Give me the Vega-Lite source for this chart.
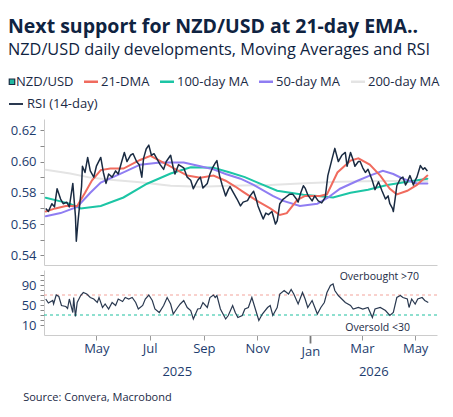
{
  "$schema": "https://vega.github.io/schema/vega-lite/v6.json",
  "padding": {"left": 8, "right": 8, "top": 17, "bottom": 6},
  "background": "white",
  "title": {
    "text": "Next support for NZD/USD at 21-day EMA..",
    "subtitle": "NZD/USD daily developments, Moving Averages and RSI",
    "anchor": "start",
    "frame": "bounds",
    "font": "Open Sans",
    "fontSize": 19.5,
    "fontWeight": "bold",
    "color": "#0f2341",
    "subtitleFont": "Open Sans",
    "subtitleFontSize": 16.3,
    "subtitleColor": "#0f2341",
    "subtitlePadding": 4,
    "offset": 16
  },
  "datasets": {
    "px": [
      {"date": "2025-03-04", "v": 0.570}, {"date": "2025-03-07", "v": 0.568}, {"date": "2025-03-11", "v": 0.573},
      {"date": "2025-03-14", "v": 0.571}, {"date": "2025-03-17", "v": 0.5826}, {"date": "2025-03-21", "v": 0.576},
      {"date": "2025-03-24", "v": 0.573}, {"date": "2025-03-28", "v": 0.574}, {"date": "2025-03-31", "v": 0.571},
      {"date": "2025-04-04", "v": 0.586}, {"date": "2025-04-07", "v": 0.565}, {"date": "2025-04-08", "v": 0.549},
      {"date": "2025-04-10", "v": 0.562}, {"date": "2025-04-14", "v": 0.584}, {"date": "2025-04-15", "v": 0.597},
      {"date": "2025-04-18", "v": 0.593}, {"date": "2025-04-21", "v": 0.6026}, {"date": "2025-04-24", "v": 0.594},
      {"date": "2025-04-28", "v": 0.590}, {"date": "2025-05-01", "v": 0.597}, {"date": "2025-05-06", "v": 0.6026},
      {"date": "2025-05-09", "v": 0.593}, {"date": "2025-05-12", "v": 0.586}, {"date": "2025-05-15", "v": 0.592},
      {"date": "2025-05-19", "v": 0.590}, {"date": "2025-05-23", "v": 0.594}, {"date": "2025-05-26", "v": 0.592},
      {"date": "2025-05-30", "v": 0.600}, {"date": "2025-06-02", "v": 0.6058}, {"date": "2025-06-05", "v": 0.600},
      {"date": "2025-06-09", "v": 0.604}, {"date": "2025-06-12", "v": 0.605}, {"date": "2025-06-16", "v": 0.600},
      {"date": "2025-06-19", "v": 0.598}, {"date": "2025-06-22", "v": 0.590}, {"date": "2025-06-24", "v": 0.602},
      {"date": "2025-06-27", "v": 0.608}, {"date": "2025-06-30", "v": 0.6105}, {"date": "2025-07-03", "v": 0.604},
      {"date": "2025-07-06", "v": 0.605}, {"date": "2025-07-10", "v": 0.601}, {"date": "2025-07-13", "v": 0.598},
      {"date": "2025-07-17", "v": 0.595}, {"date": "2025-07-20", "v": 0.600}, {"date": "2025-07-25", "v": 0.604},
      {"date": "2025-07-28", "v": 0.596}, {"date": "2025-07-30", "v": 0.592}, {"date": "2025-08-03", "v": 0.598},
      {"date": "2025-08-09", "v": 0.596}, {"date": "2025-08-13", "v": 0.590}, {"date": "2025-08-17", "v": 0.588},
      {"date": "2025-08-20", "v": 0.5826}, {"date": "2025-08-25", "v": 0.588}, {"date": "2025-08-28", "v": 0.590},
      {"date": "2025-08-31", "v": 0.583}, {"date": "2025-09-05", "v": 0.586}, {"date": "2025-09-08", "v": 0.592},
      {"date": "2025-09-11", "v": 0.596}, {"date": "2025-09-14", "v": 0.599}, {"date": "2025-09-16", "v": 0.6006},
      {"date": "2025-09-19", "v": 0.591}, {"date": "2025-09-22", "v": 0.585}, {"date": "2025-09-26", "v": 0.578},
      {"date": "2025-09-29", "v": 0.582}, {"date": "2025-10-01", "v": 0.584}, {"date": "2025-10-05", "v": 0.580},
      {"date": "2025-10-09", "v": 0.576}, {"date": "2025-10-13", "v": 0.5716}, {"date": "2025-10-16", "v": 0.574},
      {"date": "2025-10-21", "v": 0.575}, {"date": "2025-10-24", "v": 0.578}, {"date": "2025-10-28", "v": 0.581},
      {"date": "2025-10-31", "v": 0.576}, {"date": "2025-11-02", "v": 0.5716}, {"date": "2025-11-06", "v": 0.566},
      {"date": "2025-11-08", "v": 0.5632}, {"date": "2025-11-11", "v": 0.567}, {"date": "2025-11-14", "v": 0.566},
      {"date": "2025-11-18", "v": 0.568}, {"date": "2025-11-22", "v": 0.560}, {"date": "2025-11-24", "v": 0.562},
      {"date": "2025-11-27", "v": 0.573}, {"date": "2025-12-01", "v": 0.576}, {"date": "2025-12-03", "v": 0.5768},
      {"date": "2025-12-08", "v": 0.579}, {"date": "2025-12-12", "v": 0.579}, {"date": "2025-12-16", "v": 0.576},
      {"date": "2025-12-18", "v": 0.574}, {"date": "2025-12-21", "v": 0.580}, {"date": "2025-12-24", "v": 0.5845},
      {"date": "2025-12-26", "v": 0.583}, {"date": "2025-12-29", "v": 0.5787}, {"date": "2026-01-03", "v": 0.5748},
      {"date": "2026-01-06", "v": 0.578}, {"date": "2026-01-10", "v": 0.5748}, {"date": "2026-01-14", "v": 0.5735},
      {"date": "2026-01-18", "v": 0.577}, {"date": "2026-01-21", "v": 0.591}, {"date": "2026-01-26", "v": 0.602},
      {"date": "2026-01-29", "v": 0.6084}, {"date": "2026-02-02", "v": 0.600}, {"date": "2026-02-06", "v": 0.604},
      {"date": "2026-02-10", "v": 0.6058}, {"date": "2026-02-12", "v": 0.597}, {"date": "2026-02-16", "v": 0.6058},
      {"date": "2026-02-19", "v": 0.601}, {"date": "2026-02-21", "v": 0.597}, {"date": "2026-02-25", "v": 0.600},
      {"date": "2026-02-27", "v": 0.600}, {"date": "2026-03-02", "v": 0.596}, {"date": "2026-03-05", "v": 0.593},
      {"date": "2026-03-08", "v": 0.595}, {"date": "2026-03-13", "v": 0.5877}, {"date": "2026-03-16", "v": 0.582},
      {"date": "2026-03-20", "v": 0.587}, {"date": "2026-03-24", "v": 0.5813}, {"date": "2026-03-28", "v": 0.576},
      {"date": "2026-03-31", "v": 0.578}, {"date": "2026-04-02", "v": 0.573}, {"date": "2026-04-05", "v": 0.570},
      {"date": "2026-04-06", "v": 0.568}, {"date": "2026-04-08", "v": 0.576}, {"date": "2026-04-10", "v": 0.5845},
      {"date": "2026-04-14", "v": 0.589}, {"date": "2026-04-17", "v": 0.590}, {"date": "2026-04-20", "v": 0.585},
      {"date": "2026-04-22", "v": 0.587}, {"date": "2026-04-25", "v": 0.591}, {"date": "2026-04-29", "v": 0.585},
      {"date": "2026-05-01", "v": 0.588}, {"date": "2026-05-03", "v": 0.590}, {"date": "2026-05-07", "v": 0.5974},
      {"date": "2026-05-10", "v": 0.595}, {"date": "2026-05-12", "v": 0.596}, {"date": "2026-05-15", "v": 0.594}
    ],
    "ma": [
      {"series": "200-day MA", "date": "2025-03-04", "v": 0.5948}, {"series": "200-day MA", "date": "2025-04-01", "v": 0.5923},
      {"series": "200-day MA", "date": "2025-04-24", "v": 0.5897}, {"series": "200-day MA", "date": "2025-05-17", "v": 0.5884},
      {"series": "200-day MA", "date": "2025-06-20", "v": 0.5867}, {"series": "200-day MA", "date": "2025-07-25", "v": 0.5845},
      {"series": "200-day MA", "date": "2025-08-28", "v": 0.5839}, {"series": "200-day MA", "date": "2025-10-01", "v": 0.5845},
      {"series": "200-day MA", "date": "2025-11-16", "v": 0.585}, {"series": "200-day MA", "date": "2025-12-20", "v": 0.586},
      {"series": "200-day MA", "date": "2026-02-04", "v": 0.587}, {"series": "200-day MA", "date": "2026-03-22", "v": 0.5875},
      {"series": "200-day MA", "date": "2026-05-15", "v": 0.5875},

      {"series": "100-day MA", "date": "2025-03-04", "v": 0.5768}, {"series": "100-day MA", "date": "2025-03-21", "v": 0.5745},
      {"series": "100-day MA", "date": "2025-04-01", "v": 0.5729}, {"series": "100-day MA", "date": "2025-04-13", "v": 0.570},
      {"series": "100-day MA", "date": "2025-05-06", "v": 0.5716}, {"series": "100-day MA", "date": "2025-06-01", "v": 0.577},
      {"series": "100-day MA", "date": "2025-06-28", "v": 0.5858}, {"series": "100-day MA", "date": "2025-07-25", "v": 0.5923},
      {"series": "100-day MA", "date": "2025-08-17", "v": 0.5963}, {"series": "100-day MA", "date": "2025-09-12", "v": 0.596},
      {"series": "100-day MA", "date": "2025-10-01", "v": 0.593}, {"series": "100-day MA", "date": "2025-10-18", "v": 0.590},
      {"series": "100-day MA", "date": "2025-11-01", "v": 0.5867}, {"series": "100-day MA", "date": "2025-11-24", "v": 0.5813},
      {"series": "100-day MA", "date": "2025-12-09", "v": 0.580}, {"series": "100-day MA", "date": "2025-12-24", "v": 0.5787},
      {"series": "100-day MA", "date": "2026-01-09", "v": 0.578}, {"series": "100-day MA", "date": "2026-01-27", "v": 0.577},
      {"series": "100-day MA", "date": "2026-02-16", "v": 0.580}, {"series": "100-day MA", "date": "2026-03-08", "v": 0.582},
      {"series": "100-day MA", "date": "2026-03-30", "v": 0.585}, {"series": "100-day MA", "date": "2026-04-22", "v": 0.587},
      {"series": "100-day MA", "date": "2026-05-15", "v": 0.589},

      {"series": "50-day MA", "date": "2025-03-04", "v": 0.565}, {"series": "50-day MA", "date": "2025-03-21", "v": 0.567},
      {"series": "50-day MA", "date": "2025-04-09", "v": 0.571}, {"series": "50-day MA", "date": "2025-04-24", "v": 0.580},
      {"series": "50-day MA", "date": "2025-05-06", "v": 0.5865}, {"series": "50-day MA", "date": "2025-06-01", "v": 0.593},
      {"series": "50-day MA", "date": "2025-06-20", "v": 0.598}, {"series": "50-day MA", "date": "2025-07-13", "v": 0.5994},
      {"series": "50-day MA", "date": "2025-08-09", "v": 0.5994}, {"series": "50-day MA", "date": "2025-08-28", "v": 0.597},
      {"series": "50-day MA", "date": "2025-09-12", "v": 0.595}, {"series": "50-day MA", "date": "2025-09-26", "v": 0.592},
      {"series": "50-day MA", "date": "2025-10-13", "v": 0.589}, {"series": "50-day MA", "date": "2025-10-28", "v": 0.585},
      {"series": "50-day MA", "date": "2025-11-19", "v": 0.578}, {"series": "50-day MA", "date": "2025-12-01", "v": 0.5748},
      {"series": "50-day MA", "date": "2025-12-20", "v": 0.5716}, {"series": "50-day MA", "date": "2026-01-09", "v": 0.573},
      {"series": "50-day MA", "date": "2026-01-21", "v": 0.5768}, {"series": "50-day MA", "date": "2026-02-04", "v": 0.5826},
      {"series": "50-day MA", "date": "2026-02-24", "v": 0.5877}, {"series": "50-day MA", "date": "2026-03-10", "v": 0.591},
      {"series": "50-day MA", "date": "2026-03-25", "v": 0.594}, {"series": "50-day MA", "date": "2026-04-06", "v": 0.592},
      {"series": "50-day MA", "date": "2026-04-17", "v": 0.589}, {"series": "50-day MA", "date": "2026-05-03", "v": 0.586},
      {"series": "50-day MA", "date": "2026-05-15", "v": 0.586},

      {"series": "21-DMA", "date": "2025-03-04", "v": 0.568}, {"series": "21-DMA", "date": "2025-03-15", "v": 0.570},
      {"series": "21-DMA", "date": "2025-03-27", "v": 0.5715}, {"series": "21-DMA", "date": "2025-04-09", "v": 0.5716},
      {"series": "21-DMA", "date": "2025-04-18", "v": 0.580}, {"series": "21-DMA", "date": "2025-04-26", "v": 0.588},
      {"series": "21-DMA", "date": "2025-05-06", "v": 0.5945}, {"series": "21-DMA", "date": "2025-05-17", "v": 0.5955},
      {"series": "21-DMA", "date": "2025-06-01", "v": 0.5955}, {"series": "21-DMA", "date": "2025-06-20", "v": 0.601},
      {"series": "21-DMA", "date": "2025-07-02", "v": 0.6036}, {"series": "21-DMA", "date": "2025-07-21", "v": 0.598},
      {"series": "21-DMA", "date": "2025-08-13", "v": 0.591}, {"series": "21-DMA", "date": "2025-08-28", "v": 0.5897},
      {"series": "21-DMA", "date": "2025-09-12", "v": 0.591}, {"series": "21-DMA", "date": "2025-09-26", "v": 0.5877},
      {"series": "21-DMA", "date": "2025-10-07", "v": 0.584}, {"series": "21-DMA", "date": "2025-10-16", "v": 0.5806},
      {"series": "21-DMA", "date": "2025-11-01", "v": 0.5748}, {"series": "21-DMA", "date": "2025-11-16", "v": 0.570},
      {"series": "21-DMA", "date": "2025-11-27", "v": 0.5658}, {"series": "21-DMA", "date": "2025-12-05", "v": 0.567},
      {"series": "21-DMA", "date": "2025-12-17", "v": 0.5755}, {"series": "21-DMA", "date": "2025-12-26", "v": 0.578},
      {"series": "21-DMA", "date": "2026-01-12", "v": 0.578}, {"series": "21-DMA", "date": "2026-01-20", "v": 0.579},
      {"series": "21-DMA", "date": "2026-02-01", "v": 0.593}, {"series": "21-DMA", "date": "2026-02-16", "v": 0.6006},
      {"series": "21-DMA", "date": "2026-02-25", "v": 0.602}, {"series": "21-DMA", "date": "2026-03-10", "v": 0.598},
      {"series": "21-DMA", "date": "2026-03-22", "v": 0.591}, {"series": "21-DMA", "date": "2026-04-02", "v": 0.5826},
      {"series": "21-DMA", "date": "2026-04-10", "v": 0.579}, {"series": "21-DMA", "date": "2026-04-22", "v": 0.5813},
      {"series": "21-DMA", "date": "2026-05-03", "v": 0.585}, {"series": "21-DMA", "date": "2026-05-15", "v": 0.591}
    ],
    "rsi": [
      {"date": "2025-03-04", "v": 62}, {"date": "2025-03-07", "v": 54}, {"date": "2025-03-12", "v": 59}, {"date": "2025-03-13", "v": 52},
      {"date": "2025-03-16", "v": 70}, {"date": "2025-03-19", "v": 67}, {"date": "2025-03-22", "v": 49}, {"date": "2025-03-27", "v": 47},
      {"date": "2025-03-29", "v": 43}, {"date": "2025-03-31", "v": 62}, {"date": "2025-04-04", "v": 35}, {"date": "2025-04-05", "v": 65},
      {"date": "2025-04-07", "v": 27}, {"date": "2025-04-09", "v": 55}, {"date": "2025-04-13", "v": 69}, {"date": "2025-04-16", "v": 75},
      {"date": "2025-04-20", "v": 72}, {"date": "2025-04-24", "v": 65}, {"date": "2025-04-28", "v": 62}, {"date": "2025-05-02", "v": 55},
      {"date": "2025-05-04", "v": 65}, {"date": "2025-05-08", "v": 45}, {"date": "2025-05-11", "v": 52}, {"date": "2025-05-15", "v": 42},
      {"date": "2025-05-19", "v": 55}, {"date": "2025-05-23", "v": 49}, {"date": "2025-05-26", "v": 62}, {"date": "2025-05-31", "v": 57},
      {"date": "2025-06-03", "v": 65}, {"date": "2025-06-07", "v": 62}, {"date": "2025-06-11", "v": 65}, {"date": "2025-06-15", "v": 55},
      {"date": "2025-06-18", "v": 42}, {"date": "2025-06-23", "v": 49}, {"date": "2025-06-26", "v": 62}, {"date": "2025-06-30", "v": 70},
      {"date": "2025-07-04", "v": 59}, {"date": "2025-07-07", "v": 42}, {"date": "2025-07-12", "v": 35}, {"date": "2025-07-17", "v": 49},
      {"date": "2025-07-21", "v": 65}, {"date": "2025-07-25", "v": 52}, {"date": "2025-07-28", "v": 32}, {"date": "2025-08-02", "v": 45},
      {"date": "2025-08-05", "v": 52}, {"date": "2025-08-09", "v": 59}, {"date": "2025-08-13", "v": 45}, {"date": "2025-08-17", "v": 39},
      {"date": "2025-08-20", "v": 22}, {"date": "2025-08-25", "v": 42}, {"date": "2025-08-28", "v": 43}, {"date": "2025-08-31", "v": 55},
      {"date": "2025-09-05", "v": 45}, {"date": "2025-09-08", "v": 65}, {"date": "2025-09-12", "v": 70}, {"date": "2025-09-14", "v": 65},
      {"date": "2025-09-16", "v": 69}, {"date": "2025-09-20", "v": 42}, {"date": "2025-09-26", "v": 22}, {"date": "2025-09-29", "v": 29},
      {"date": "2025-10-04", "v": 49}, {"date": "2025-10-07", "v": 35}, {"date": "2025-10-10", "v": 25}, {"date": "2025-10-15", "v": 29},
      {"date": "2025-10-18", "v": 42}, {"date": "2025-10-22", "v": 45}, {"date": "2025-10-26", "v": 65}, {"date": "2025-10-30", "v": 42},
      {"date": "2025-11-03", "v": 19}, {"date": "2025-11-07", "v": 32}, {"date": "2025-11-13", "v": 45}, {"date": "2025-11-16", "v": 49},
      {"date": "2025-11-19", "v": 29}, {"date": "2025-11-24", "v": 45}, {"date": "2025-11-27", "v": 72}, {"date": "2025-12-02", "v": 79},
      {"date": "2025-12-07", "v": 72}, {"date": "2025-12-10", "v": 81}, {"date": "2025-12-13", "v": 72}, {"date": "2025-12-18", "v": 52},
      {"date": "2025-12-23", "v": 75}, {"date": "2025-12-26", "v": 62}, {"date": "2025-12-29", "v": 45}, {"date": "2026-01-03", "v": 59},
      {"date": "2026-01-09", "v": 32}, {"date": "2026-01-13", "v": 45}, {"date": "2026-01-17", "v": 55}, {"date": "2026-01-20", "v": 75},
      {"date": "2026-01-24", "v": 89}, {"date": "2026-01-27", "v": 92}, {"date": "2026-01-29", "v": 79}, {"date": "2026-02-02", "v": 69},
      {"date": "2026-02-06", "v": 62}, {"date": "2026-02-10", "v": 55}, {"date": "2026-02-16", "v": 49}, {"date": "2026-02-19", "v": 42},
      {"date": "2026-02-25", "v": 45}, {"date": "2026-03-02", "v": 42}, {"date": "2026-03-08", "v": 45}, {"date": "2026-03-13", "v": 25},
      {"date": "2026-03-16", "v": 42}, {"date": "2026-03-22", "v": 45}, {"date": "2026-03-28", "v": 39}, {"date": "2026-04-02", "v": 29},
      {"date": "2026-04-06", "v": 35}, {"date": "2026-04-10", "v": 65}, {"date": "2026-04-14", "v": 69}, {"date": "2026-04-17", "v": 65},
      {"date": "2026-04-22", "v": 62}, {"date": "2026-04-24", "v": 45}, {"date": "2026-04-27", "v": 62}, {"date": "2026-05-01", "v": 52},
      {"date": "2026-05-04", "v": 62}, {"date": "2026-05-09", "v": 65}, {"date": "2026-05-12", "v": 59}, {"date": "2026-05-16", "v": 55}
    ],
    "levels": [
      {"level": 70, "kind": "overbought"},
      {"level": 30, "kind": "oversold"}
    ],
    "notes": [
      {"date": "2026-03-21", "y": 106, "label": "Overbought >70"},
      {"date": "2026-03-19", "y": 4, "label": "Oversold <30"}
    ]
  },
  "vconcat": [
    {
      "width": 393,
      "height": 146,
      "layer": [
        {
          "data": {"name": "ma"},
          "mark": {"type": "line", "strokeWidth": 2, "strokeCap": "round"},
          "encoding": {
            "x": {
              "field": "date", "type": "temporal",
              "scale": {"type": "utc", "domain": [{"year": 2025, "month": 3, "date": 2, "utc": true}, {"year": 2026, "month": 5, "date": 26, "utc": true}]},
              "axis": {"labels": false, "ticks": false, "title": null, "domainColor": "#cccccc", "grid": false}
            },
            "y": {
              "field": "v", "type": "quantitative",
              "scale": {"domain": [0.5338, 0.6272], "nice": false, "zero": false},
              "axis": {
                "orient": "left",
                "title": null, "grid": false, "labelOverlap": false,
                "values": [0.54, 0.56, 0.58, 0.60, 0.62],
                "format": ".2f",
                "tickSize": 4, "tickColor": "#8a8a8a", "domainColor": "#cccccc",
                "labelColor": "#1d3c6e", "labelFontSize": 13, "labelPadding": 4
              }
            },
            "color": {
              "field": "series", "type": "nominal",
              "scale": {
                "domain": ["NZD/USD", "21-DMA", "100-day MA", "50-day MA", "200-day MA"],
                "range": ["#1a2b42", "#f06b5e", "#1cc5a5", "#8f7df2", "#e4e4e4"]
              },
              "legend": {
                "title": null,
                "orient": "none",
                "legendX": -36,
                "legendY": -44,
                "direction": "horizontal",
                "columns": 5,
                "labelFont": "Open Sans",
                "labelFontSize": 13,
                "labelColor": "#1b2a45",
                "labelOffset": 3,
                "columnPadding": 5,
                "symbolSize": 36,
                "symbolStrokeWidth": 1.2,
                "encode": {
                  "symbols": {
                    "update": {
                      "x": {"signal": "datum.value === 'NZD/USD' ? 4 : 7"},
                      "shape": {"signal": "datum.value === 'NZD/USD' ? 'square' : 'stroke'"},
                      "size": {"signal": "datum.value === 'NZD/USD' ? 30 : 196"},
                      "fill": {"signal": "datum.value === 'NZD/USD' ? '#22b8a0' : 'transparent'"},
                      "strokeWidth": {"signal": "datum.value === 'NZD/USD' ? 1.2 : 2.5"}
                    }
                  },
                  "labels": {
                    "update": {
                      "x": {"signal": "datum.value === 'NZD/USD' ? 8 : 17"}
                    }
                  }
                }
              }
            }
          }
        },
        {
          "data": {"name": "px"},
          "mark": {"type": "line", "strokeWidth": 1.5, "strokeJoin": "round"},
          "encoding": {
            "x": {"field": "date", "type": "temporal", "scale": {"type": "utc"}},
            "y": {
              "field": "v", "type": "quantitative",
              "axis": {
                "orient": "left",
                "title": null, "grid": false, "labels": false, "domain": false,
                "values": [0.55, 0.57, 0.59, 0.61],
                "tickSize": 4, "tickColor": "#8a8a8a"
              }
            },
            "color": {"datum": "NZD/USD", "type": "nominal"}
          }
        }
      ],
      "resolve": {"axis": {"y": "independent"}}
    },
    {
      "width": 393,
      "height": 65,
      "title": {
        "text": "Source: Convera, Macrobond",
        "orient": "bottom",
        "anchor": "start",
        "frame": "bounds",
        "font": "Open Sans",
        "fontSize": 11,
        "fontWeight": "normal",
        "color": "#1b2a45",
        "offset": 14,
        "dx": 2
      },
      "layer": [
        {
          "data": {"name": "levels"},
          "mark": {"type": "rule", "strokeWidth": 1.2, "strokeDash": [3, 3]},
          "encoding": {
            "y": {
              "field": "level", "type": "quantitative",
              "axis": {
                "orient": "left",
                "title": null, "grid": false, "labels": false, "domain": false,
                "values": [20, 30, 40, 60, 70, 80, 100, 110],
                "tickSize": 4, "tickColor": "#8a8a8a"
              }
            },
            "stroke": {"condition": {"test": "datum.level > 50", "value": "#f4a39b"}, "value": "#1fbf9f"}
          }
        },
        {
          "data": {"name": "rsi"},
          "mark": {"type": "line", "strokeWidth": 1.2},
          "encoding": {
            "x": {
              "field": "date", "type": "temporal",
              "scale": {"type": "utc", "domain": [{"year": 2025, "month": 3, "date": 2, "utc": true}, {"year": 2026, "month": 5, "date": 26, "utc": true}]},
              "axis": {
                "orient": "bottom",
                "title": null, "grid": false, "labelOverlap": false,
                "values": [
                  {"year": 2025, "month": 5, "date": 1, "utc": true},
                  {"year": 2025, "month": 7, "date": 1, "utc": true},
                  {"year": 2025, "month": 9, "date": 1, "utc": true},
                  {"year": 2025, "month": 11, "date": 1, "utc": true},
                  {"year": 2026, "month": 1, "date": 1, "utc": true},
                  {"year": 2026, "month": 3, "date": 1, "utc": true},
                  {"year": 2026, "month": 5, "date": 1, "utc": true}
                ],
                "labelExpr": "utcFormat(datum.value, '%b')",
                "domainColor": "#cccccc",
                "tickColor": {"condition": {"test": "utcmonth(datum.value) == 0", "value": "#777777"}, "value": "#999999"},
                "tickSize": {"condition": {"test": "utcmonth(datum.value) == 0", "value": 8}, "value": 5},
                "tickWidth": {"condition": {"test": "utcmonth(datum.value) == 0", "value": 1.8}, "value": 1},
                "labelColor": "#1d3c6e", "labelFontSize": 13, "labelPadding": 2
              }
            },
            "y": {
              "field": "v", "type": "quantitative",
              "scale": {"domain": [-10, 120], "nice": false, "zero": false},
              "axis": {
                "orient": "left",
                "title": null, "grid": false, "labelOverlap": false,
                "values": [10, 50, 90],
                "format": "d",
                "tickSize": 4, "tickColor": "#8a8a8a", "domainColor": "#cccccc",
                "labelColor": "#1d3c6e", "labelFontSize": 13, "labelPadding": 4
              }
            },
            "stroke": {
              "datum": "RSI (14-day)", "type": "nominal",
              "scale": {"domain": ["RSI (14-day)"], "range": ["#2a3950"]},
              "legend": {
                "title": null,
                "orient": "none",
                "legendX": -36,
                "legendY": -23,
                "labelFont": "Open Sans",
                "labelFontSize": 13,
                "labelColor": "#1b2a45",
                "labelOffset": 3,
                "symbolType": "stroke",
                "symbolSize": 196,
                "symbolStrokeWidth": 2
              }
            }
          }
        },
        {
          "data": {"name": "notes"},
          "mark": {"type": "text", "font": "Open Sans", "fontSize": 10.5, "color": "#1b2a45"},
          "encoding": {
            "x": {
              "field": "date", "type": "temporal",
              "scale": {"type": "utc"},
              "axis": {
                "orient": "bottom",
                "title": null, "grid": false, "domain": false, "ticks": false, "tickSize": 0, "labelOverlap": false,
                "values": [
                  {"year": 2025, "month": 8, "date": 1, "utc": true},
                  {"year": 2026, "month": 3, "date": 14, "utc": true}
                ],
                "labelExpr": "utcFormat(datum.value, '%Y')",
                "labelColor": "#1d3c6e", "labelFontSize": 13, "labelPadding": 30
              }
            },
            "y": {"field": "y", "type": "quantitative", "axis": null},
            "text": {"field": "label"}
          }
        }
      ],
      "resolve": {"axis": {"x": "independent", "y": "independent"}}
    }
  ],
  "spacing": 5,
  "resolve": {"scale": {"color": "shared", "stroke": "shared"}, "legend": {"color": "shared", "stroke": "shared"}},
  "config": {
    "font": "Open Sans",
    "view": {"stroke": null},
    "axis": {"labelFont": "Open Sans", "labelOverlap": false}
  }
}
